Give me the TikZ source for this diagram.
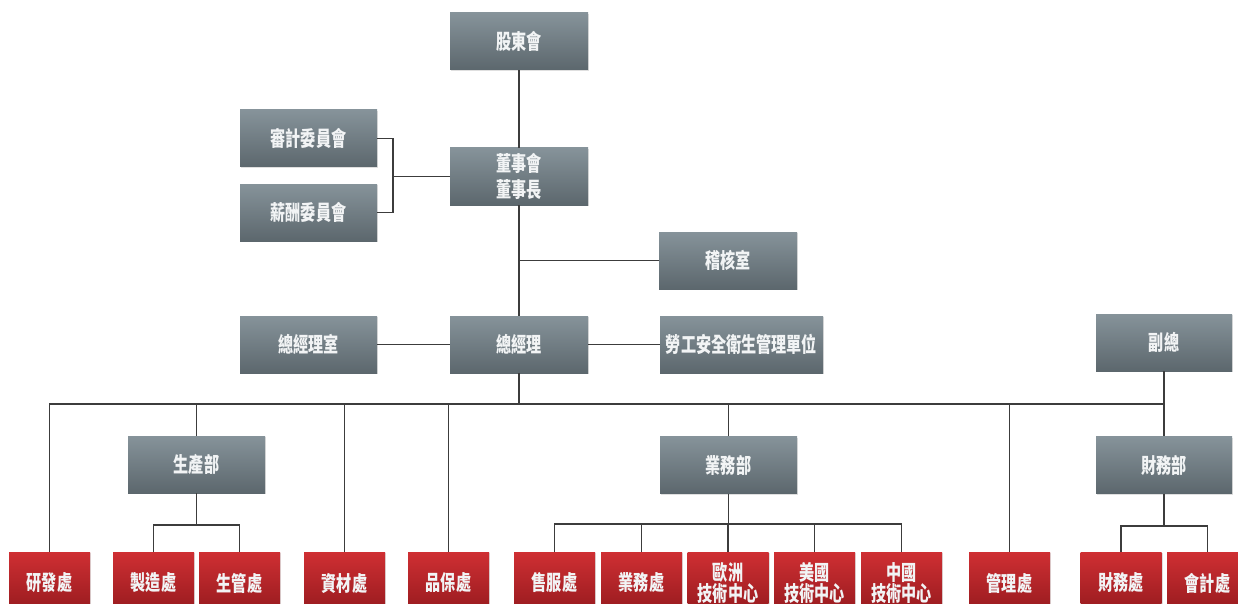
\documentclass[tikz,border=0pt]{standalone}
\usepackage{fontspec}
\newfontfamily\cjk[FakeStretch=0.72]{Noto Sans CJK TC}
\usetikzlibrary{shadows}
\definecolor{gtop}{HTML}{86939A}
\definecolor{gbot}{HTML}{5C676D}
\definecolor{rtop}{HTML}{CF2F33}
\definecolor{rbot}{HTML}{951A1E}
\definecolor{lnc}{HTML}{3C3C3C}
\definecolor{txw}{HTML}{F2F4F5}
\tikzset{
  boxbase/.style={rectangle, inner sep=0pt, align=center, text=txw,
    font=\cjk\bfseries\fontsize{21}{23}\selectfont,
    drop shadow={opacity=0.25, shadow xshift=1.2pt, shadow yshift=-1.2pt}},
  gbox/.style={boxbase, top color=gtop, bottom color=gbot, minimum width=138pt, minimum height=57pt},
  rbox/.style={boxbase, top color=rtop, bottom color=rbot, minimum width=81pt, minimum height=62pt},
  twol/.style={font=\cjk\bfseries\fontsize{21}{21.5}\selectfont},
  conn/.style={draw=lnc, line width=1.4pt}
}
\begin{document}
\begin{tikzpicture}[x=1pt,y=-1pt]
\useasboundingbox (0,0) rectangle (1238,604);
\clip (0,0) rectangle (1238,604);
\fill[white] (0,0) rectangle (1238,604);
% gray boxes
\node[gbox] (sh) at (519,41.5) {股東會};
\node[gbox, minimum width=137pt] (aud) at (308.5,138.5) {審計委員會};
\node[gbox, minimum width=137pt] (pay) at (308.5,212.5) {薪酬委員會};
\node[gbox, font=\cjk\bfseries\fontsize{21}{25.5}\selectfont] (bod) at (519,176.5) {董事會\\董事長};
\node[gbox] (audit) at (728,260.5) {稽核室};
\node[gbox, minimum width=137pt] (gmo) at (308.5,344.5) {總經理室};
\node[gbox] (gm) at (519,344.5) {總經理};
\node[gbox, minimum width=163pt] (lab) at (741.5,344.5) {勞工安全衛生管理單位};
\node[gbox, minimum width=136pt] (vp) at (1164,342.5) {副總};
\node[gbox, minimum width=137pt] (prod) at (196.5,464.5) {生產部};
\node[gbox, minimum width=137pt] (sales) at (728.5,465) {業務部};
\node[gbox, minimum width=136pt] (fin) at (1164,465) {財務部};
% red boxes
\node[rbox] (rd) at (49.5,583) {研發處};
\node[rbox] (mfg) at (153.5,583) {製造處};
\node[rbox] (pm) at (239.5,583) {生管處};
\node[rbox] (mat) at (344.5,583) {資材處};
\node[rbox] (qa) at (448.5,583) {品保處};
\node[rbox] (svc) at (554.5,583) {售服處};
\node[rbox] (sd) at (641.5,583) {業務處};
\node[rbox, twol] (eu) at (728,583) {歐洲\\技術中心};
\node[rbox, twol] (us) at (814.5,583) {美國\\技術中心};
\node[rbox, twol] (cn) at (901.5,583) {中國\\技術中心};
\node[rbox] (mgmt) at (1009.5,583) {管理處};
\node[rbox] (fd) at (1121,583) {財務處};
\node[rbox] (acc) at (1207.5,583) {會計處};
% helper coordinates
\coordinate (busy) at (0,404);
\coordinate (cb) at (393,176.5);
\coordinate (pby) at (0,525);
\coordinate (sby) at (0,524);
\coordinate (fby) at (0,526);
% connectors
\draw[conn] (sh.south) -- (bod.north);
\draw[conn] (bod.south) -- (gm.north);
\draw[conn] (aud.east) -| (cb);
\draw[conn] (pay.east) -| (cb);
\draw[conn] (cb) -- (bod.west);
\draw[conn] (audit.west) -- (audit.west -| bod.south);
\draw[conn] (gmo.east) -- (gm.west);
\draw[conn] (gm.east) -- (lab.west);
\draw[conn] (gm.south) -- (gm.south |- busy);
\draw[conn] (rd.north) |- (vp.south |- busy);
\draw[conn] (vp.south) -- (fin.north);
\draw[conn] (prod.north) -- (prod.north |- busy);
\draw[conn] (mat.north) -- (mat.north |- busy);
\draw[conn] (qa.north) -- (qa.north |- busy);
\draw[conn] (sales.north) -- (sales.north |- busy);
\draw[conn] (mgmt.north) -- (mgmt.north |- busy);
% production
\draw[conn] (prod.south) -- (prod.south |- pby);
\draw[conn] (mfg.north) |- (pm.north |- pby) -- (pm.north);
% sales
\draw[conn] (sales.south) -- (sales.south |- sby);
\draw[conn] (svc.north) |- (cn.north |- sby) -- (cn.north);
\draw[conn] (sd.north) -- (sd.north |- sby);
\draw[conn] (eu.north) -- (eu.north |- sby);
\draw[conn] (us.north) -- (us.north |- sby);
% finance
\draw[conn] (fin.south) -- (fin.south |- fby);
\draw[conn] (fd.north) |- (acc.north |- fby) -- (acc.north);
\end{tikzpicture}
\end{document}
